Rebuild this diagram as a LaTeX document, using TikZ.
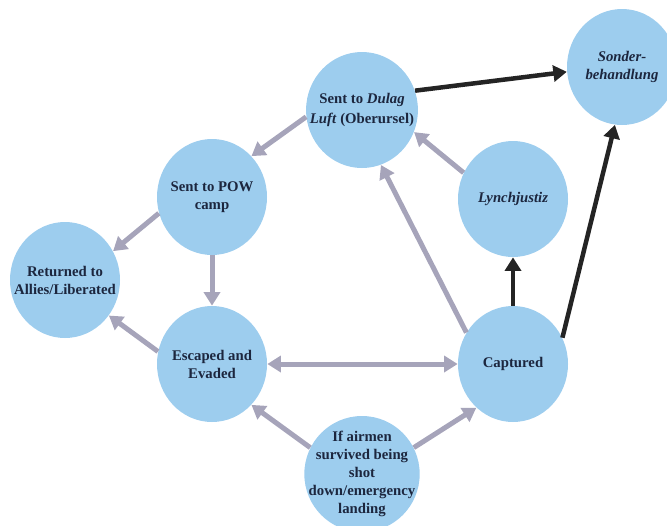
\documentclass[tikz,border=0pt]{standalone}
\usepackage{fontspec}
\setmainfont{Liberation Serif}
\usetikzlibrary{shapes.geometric,arrows.meta,positioning}
\definecolor{skyblue}{RGB}{157,205,238}
\definecolor{greyarrow}{RGB}{166,164,186}
\definecolor{darkarrow}{RGB}{36,36,36}
\definecolor{inkblue}{RGB}{28,38,62}

\begin{document}
\begin{tikzpicture}[on grid, >={Triangle[width=0.32cm,length=0.27cm]},
  stage/.style={ellipse,fill=skyblue,minimum width=2.2cm,minimum height=2.32cm,inner sep=-0.25cm,align=center,text=inkblue,font=\bfseries\fontsize{8.4}{10.3}\selectfont},
  flow/.style={->,color=greyarrow,line width=0.1cm},
  fate/.style={->,color=darkarrow,line width=0.09cm}]
        \useasboundingbox (0,0) rectangle (13.34,-10.5);
        \node[stage] (pow) at (4.24,-3.94)                              {Sent to POW\\camp};
        \node[stage] (escaped)  [below=3.34cm of pow]                   {Escaped and\\Evaded};
        \node[stage] (returned) [below left=1.66cm and 2.94cm of pow]   {Returned to\\Allies/Liberated};
        \node[stage] (captured) [right=6.02cm of escaped]               {Captured};
        \node[stage] (lynch)    [above=3.3cm of captured]               {\textit{Lynchjustiz}};
        \node[stage] (dulag)    [above right=1.74cm and 3cm of pow]     {Sent to \textit{Dulag}\\[1.5pt] \textit{Luft} (Oberursel)};
        \node[stage] (sonder)   [above right=0.86cm and 5.2cm of dulag] {\textit{Sonder-}\\\textit{behandlung}};
        \node[stage] (airmen)   [below right=2.2cm and 3cm of escaped]  {If airmen\\survived being\\shot\\down/emergency\\landing};

        \path[flow] (dulag.187)    edge (pow.46)
                    (pow.197)      edge (returned.31)
                    (pow.south)    edge (escaped.north)
                    (escaped.167)  edge (returned.321)
                    (airmen.153)   edge (escaped.314)
                    (airmen.27)    edge (captured.230)
                    (captured.146) edge (dulag.289)
                    (lynch.152)    edge (dulag.337);
        \path[flow,<->] (escaped.east) edge (captured.west);
        \path[fate] (dulag.20)      edge (sonder.185)
                    (captured.north) edge (lynch.south)
                    (captured.28)   edge (sonder.263);
\end{tikzpicture}
\end{document}
